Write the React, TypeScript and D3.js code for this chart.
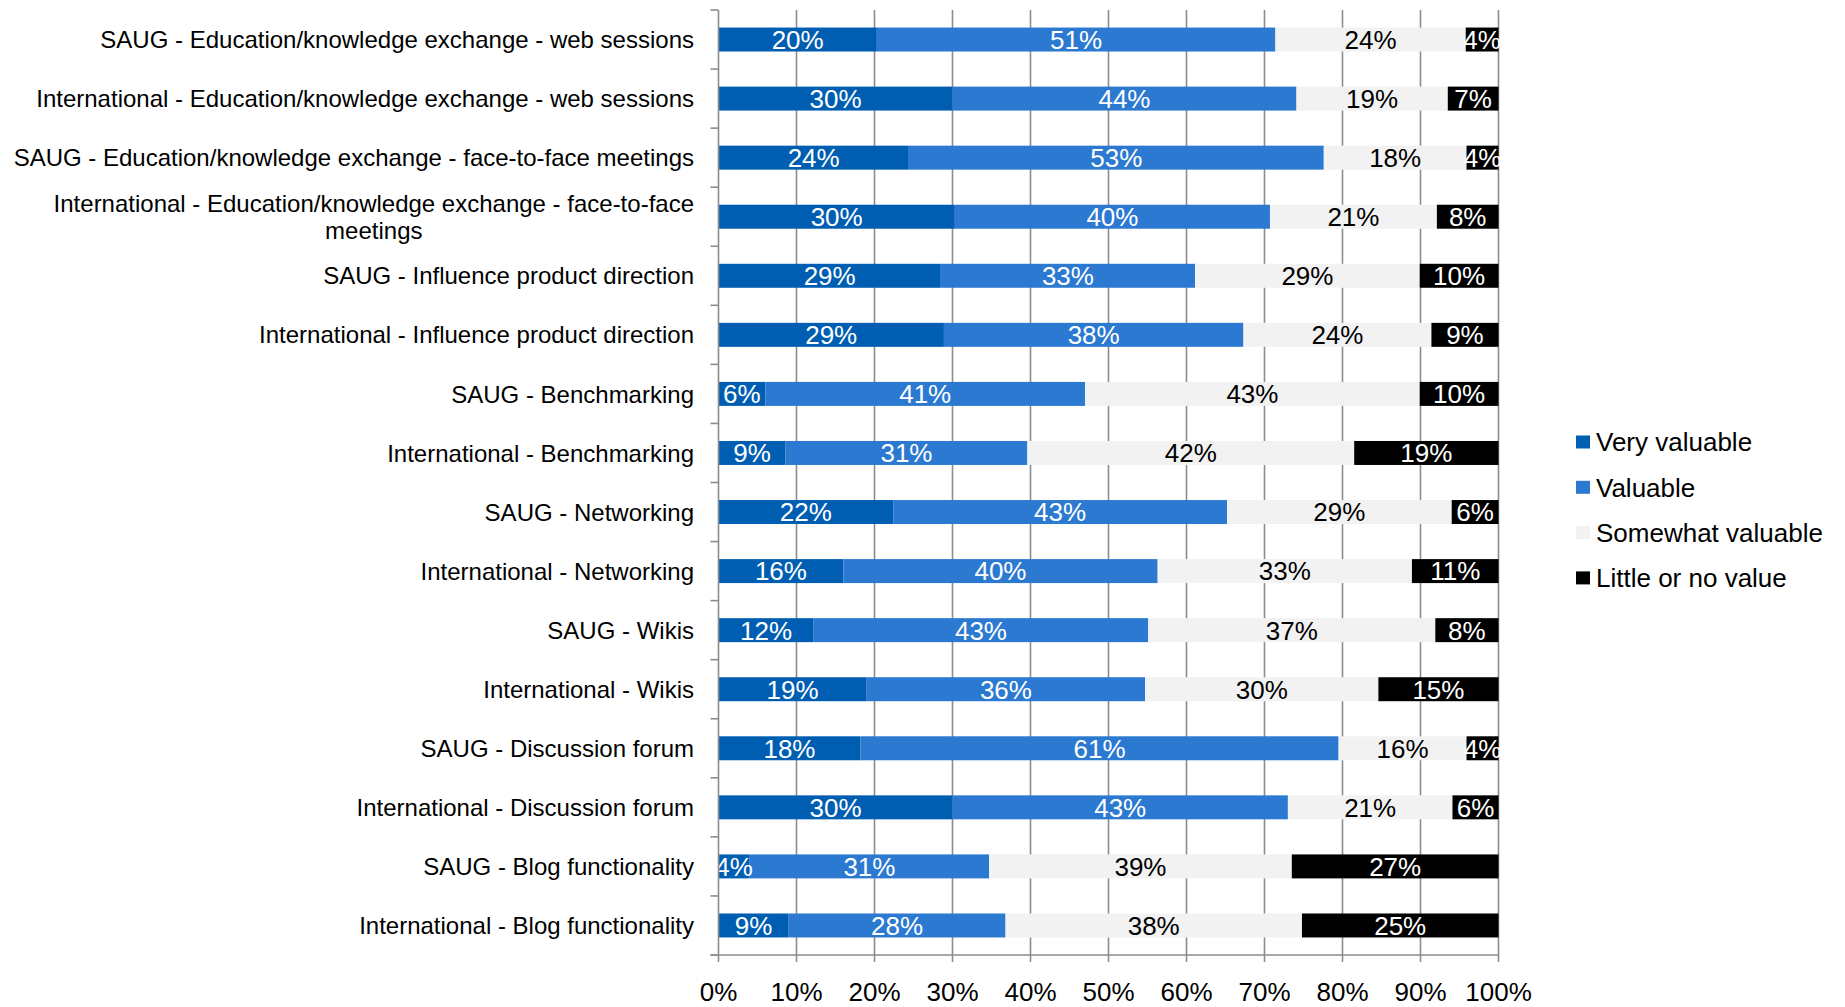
import React, { useMemo } from "react";
import * as d3 from "d3";

// Survey rows, top to bottom
const categories: string[] = [
  "SAUG - Education/knowledge exchange - web sessions",
  "International - Education/knowledge exchange - web sessions",
  "SAUG - Education/knowledge exchange - face-to-face meetings",
  "International - Education/knowledge exchange - face-to-face meetings",
  "SAUG - Influence product direction",
  "International - Influence product direction",
  "SAUG - Benchmarking",
  "International - Benchmarking",
  "SAUG - Networking",
  "International - Networking",
  "SAUG - Wikis",
  "International - Wikis",
  "SAUG - Discussion forum",
  "International - Discussion forum",
  "SAUG - Blog functionality",
  "International - Blog functionality",
];

// Share of respondents (%) per rating
const veryValuable: number[] = [20.3, 30.0, 24.4, 30.3, 28.5, 28.9, 6.0, 8.6, 22.4, 16.0, 12.2, 19.0, 18.2, 30.0, 4.0, 9.0];
const valuable: number[] = [51.1, 44.1, 53.2, 40.4, 32.6, 38.4, 41.0, 31.0, 42.8, 40.3, 42.9, 35.7, 61.3, 43.0, 30.7, 27.8];
const somewhatValuable: number[] = [24.4, 19.4, 18.3, 21.4, 28.8, 24.1, 42.9, 41.9, 28.8, 32.6, 36.8, 29.9, 16.4, 21.1, 38.8, 38.0];
const littleOrNoValue: number[] = [4.2, 6.5, 4.1, 7.9, 10.1, 8.6, 10.1, 18.5, 6.0, 11.1, 8.1, 15.4, 4.1, 5.9, 26.5, 25.2];

const seriesNames: string[] = ["Very valuable", "Valuable", "Somewhat valuable", "Little or no value"];
const seriesColors: string[] = ["#005EB2", "#2B79D0", "#F2F2F2", "#000000"];
const labelColors: string[] = ["#FFFFFF", "#FFFFFF", "#000000", "#FFFFFF"];
const xTicks: number[] = [0, 10, 20, 30, 40, 50, 60, 70, 80, 90, 100];

const FONT = "'Liberation Sans', Arial, Helvetica, sans-serif";
const W = 1845;
const H = 1007;
const plot = { left: 718.5, right: 1498.5, top: 10, bottom: 955 };
const gridColor = "#8C8C8C";

function wrapLabel(text: string, maxWidth: number, font: string): string[] {
  const canvas = document.createElement("canvas");
  const ctx = canvas.getContext("2d");
  if (!ctx) return [text];
  ctx.font = font;
  const words = text.split(" ");
  const lines: string[] = [];
  let cur = "";
  for (const w of words) {
    const trial = cur ? cur + " " + w : w;
    if (ctx.measureText(trial).width > maxWidth && cur) {
      lines.push(cur);
      cur = w;
    } else {
      cur = trial;
    }
  }
  if (cur) lines.push(cur);
  return lines;
}

function measure(text: string, font: string): number {
  const canvas = document.createElement("canvas");
  const ctx = canvas.getContext("2d");
  if (!ctx) return text.length * 12;
  ctx.font = font;
  return ctx.measureText(text).width;
}

export default function App() {
  const rows = useMemo(
    () =>
      categories.map((c, i) => ({
        category: c,
        [seriesNames[0]]: veryValuable[i],
        [seriesNames[1]]: valuable[i],
        [seriesNames[2]]: somewhatValuable[i],
        [seriesNames[3]]: littleOrNoValue[i],
      })),
    []
  );

  const stacked = useMemo(() => d3.stack<any>().keys(seriesNames)(rows), [rows]);

  const x = d3.scaleLinear().domain([0, 100]).range([plot.left, plot.right]);
  const y = d3
    .scaleBand<string>()
    .domain(categories)
    .range([plot.top, plot.bottom])
    .paddingInner(0.594)
    .paddingOuter(0.297);

  const step = y.step();
  const catFont = `24px ${FONT}`;
  const labelRight = 694;

  const wrapped = useMemo(
    () => categories.map((c) => wrapLabel(c, 690, catFont)),
    []
  );

  return (
    <svg
      width={W}
      height={H}
      style={{ position: "absolute", left: 0, top: 0, background: "#FFFFFF" }}
      fontFamily={FONT}
    >
      <rect x={0} y={0} width={W} height={H} fill="#FFFFFF" />

      {/* vertical gridlines */}
      {xTicks.slice(1).map((t) => (
        <line
          key={`g${t}`}
          x1={x(t)}
          x2={x(t)}
          y1={plot.top}
          y2={plot.bottom}
          stroke={gridColor}
          strokeWidth={1.6}
        />
      ))}

      {/* stacked bars */}
      {stacked.map((layer, si) => (
        <g key={layer.key}>
          {layer.map((d, i) => (
            <rect
              key={i}
              x={x(d[0])}
              y={y(categories[i])}
              width={x(d[1]) - x(d[0])}
              height={y.bandwidth()}
              fill={seriesColors[si]}
            />
          ))}
        </g>
      ))}

      {/* value labels */}
      {stacked.map((layer, si) => (
        <g key={`l${layer.key}`}>
          {layer.map((d, i) => {
            const v = d[1] - d[0];
            return (
              <text
                key={i}
                x={x((d[0] + d[1]) / 2)}
                y={(y(categories[i]) as number) + y.bandwidth() / 2}
                dy="0.36em"
                textAnchor="middle"
                fontSize={26}
                fill={labelColors[si]}
              >
                {`${Math.round(v)}%`}
              </text>
            );
          })}
        </g>
      ))}

      {/* left axis */}
      <line x1={plot.left} x2={plot.left} y1={plot.top} y2={plot.bottom} stroke={gridColor} strokeWidth={1.6} />
      {d3.range(categories.length + 1).map((i) => (
        <line
          key={`yt${i}`}
          x1={plot.left - 8}
          x2={plot.left}
          y1={plot.top + i * step}
          y2={plot.top + i * step}
          stroke={gridColor}
          strokeWidth={1.6}
        />
      ))}

      {/* bottom axis */}
      <line x1={plot.left - 8} x2={plot.right} y1={plot.bottom} y2={plot.bottom} stroke={gridColor} strokeWidth={1.6} />
      {xTicks.map((t) => (
        <g key={`xt${t}`}>
          <line x1={x(t)} x2={x(t)} y1={plot.bottom} y2={plot.bottom + 7} stroke={gridColor} strokeWidth={1.6} />
          <text x={x(t)} y={plot.bottom + 37} dy="0.36em" textAnchor="middle" fontSize={26} fill="#000">
            {`${t}%`}
          </text>
        </g>
      ))}

      {/* category labels */}
      {wrapped.map((lines, i) => {
        const cy = (y(categories[i]) as number) + y.bandwidth() / 2;
        if (lines.length === 1) {
          return (
            <text key={`c${i}`} x={labelRight} y={cy} dy="0.36em" textAnchor="end" fontSize={24} fill="#000">
              {lines[0]}
            </text>
          );
        }
        const maxW = Math.max(...lines.map((l) => measure(l, catFont)));
        const cx = labelRight - maxW / 2;
        const lh = 27;
        const y0 = cy - ((lines.length - 1) * lh) / 2;
        return (
          <text key={`c${i}`} textAnchor="middle" fontSize={24} fill="#000">
            {lines.map((l, j) => (
              <tspan key={j} x={cx} y={y0 + j * lh} dy="0.36em">
                {l}
              </tspan>
            ))}
          </text>
        );
      })}

      {/* legend */}
      {seriesNames.map((name, i) => {
        const cy = 442 + i * 45.3;
        return (
          <g key={`lg${i}`}>
            <rect x={1576} y={cy - 6.5} width={14} height={13} fill={seriesColors[i]} />
            <text x={1596} y={cy} dy="0.36em" fontSize={26} fill="#000">
              {name}
            </text>
          </g>
        );
      })}
    </svg>
  );
}
